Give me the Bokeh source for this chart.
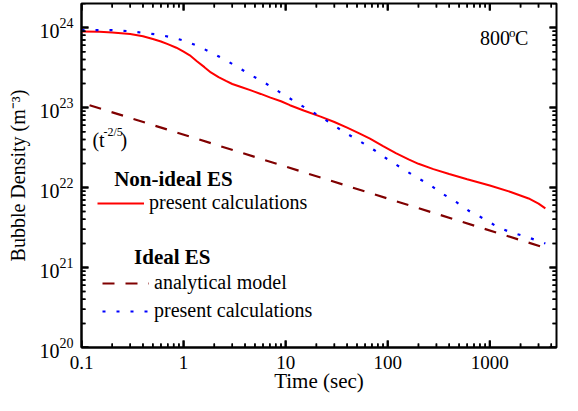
from bokeh.plotting import figure
from bokeh.models import (Label, Legend, LegendItem, CustomJSTickFormatter, Range1d)
from bokeh.embed import file_html
from bokeh.resources import INLINE

# ---- data ----
t_nonideal = [0.1, 0.15, 0.2, 0.3, 0.4, 0.5, 0.6, 0.7, 0.85, 1.0, 1.15, 1.35, 1.6, 1.85,
              2.2, 2.6, 3.0, 3.6, 4.5, 5.7, 7.1, 9, 11, 15, 22, 30, 40, 52, 67, 90,
              120, 160, 200, 280, 400, 600, 1000, 1600, 2400, 3000, 3500]
n_nonideal = [8.9e23, 8.85e23, 8.7e23, 8.3e23, 7.8e23, 7.2e23, 6.7e23, 6.2e23, 5.6e23,
              5.0e23, 4.5e23, 3.8e23, 3.2e23, 2.75e23, 2.4e23, 2.15e23, 1.97e23,
              1.82e23, 1.65e23, 1.48e23, 1.33e23, 1.2e23, 1.07e23, 9.2e22, 7.7e22,
              6.6e22, 5.6e22, 4.8e22, 4.1e22, 3.3e22, 2.7e22, 2.25e22, 1.98e22,
              1.7e22, 1.48e22, 1.27e22, 1.06e22, 8.8e21, 7.3e21, 6.3e21, 5.5e21]

t_ideal = [0.1, 0.2, 0.3, 0.4, 0.55, 0.75, 1.0, 1.38, 1.87, 2.55, 3.5, 4.75, 6.4, 8.8,
           11.8, 16, 22, 29.5, 40, 55, 75, 100, 137, 186, 256, 342, 468, 640, 875,
           1170, 1600, 2200, 3000, 3500]
n_ideal = [9.3e23, 9.3e23, 9.0e23, 8.6e23, 8.2e23, 7.6e23, 6.9e23, 5.9e23, 4.86e23,
           3.96e23, 3.13e23, 2.48e23, 2.0e23, 1.55e23, 1.23e23, 9.7e22, 7.7e22, 6.0e22,
           4.7e22, 3.7e22, 2.9e22, 2.25e22, 1.75e22, 1.37e22, 1.09e22, 8.4e21, 6.6e21,
           5.0e21, 4.07e21, 3.25e21, 2.75e21, 2.46e21, 2.14e21, 2.0e21]

t_analytic = [0.12, 3300]
n_analytic = [1.07e23, 1.8e21]

x_major = [0.1, 1, 10, 100, 1000]
y_major = [1e20, 1e21, 1e22, 1e23, 1e24]

x_min, x_max = 0.1, 4500
y_min, y_max = 1e20, 2e24

FONT = "Liberation Serif"
NAN = float("nan")

p = figure(width=562, height=395, x_axis_type="log", y_axis_type="log",
           x_range=Range1d(x_min, x_max), y_range=Range1d(y_min, y_max),
           output_backend="svg", toolbar_location=None,
           min_border_left=81, min_border_right=6, min_border_top=3,
           min_border_bottom=45)
p.grid.visible = False
p.outline_line_color = "black"
p.outline_line_width = 2
p.background_fill_color = "white"

r_red = p.line(t_nonideal, n_nonideal, line_color="#ff0000", line_width=2)
r_dash = p.line(t_analytic, n_analytic, line_color="#800000", line_width=2.2,
                line_dash="12 11")
r_blue = p.line(t_ideal, n_ideal, line_color="#0000ff", line_width=2.2,
                line_dash="3 11")

# ---- inward ticks on all four sides ----
PX_PER_DEC_X = 103.0   # approximate pixels per decade, only for tick length
PX_PER_DEC_Y = 80.0
x_minor = [m * v for v in x_major for m in range(2, 10) if m * v <= x_max]
y_minor = [m * v for v in y_major for m in range(2, 10) if m * v <= y_max]


def tick_path(vals, length, vertical):
    xs, ys = [], []
    if vertical:
        f = 10 ** (length / PX_PER_DEC_Y)
        for v in vals:
            xs += [v, v, NAN, v, v, NAN]
            ys += [y_min, y_min * f, NAN, y_max, y_max / f, NAN]
    else:
        f = 10 ** (length / PX_PER_DEC_X)
        for v in vals:
            xs += [x_min, x_min * f, NAN, x_max, x_max / f, NAN]
            ys += [v, v, NAN, v, v, NAN]
    return xs, ys


for vals, length, width, vertical in ((x_major, 7, 2, True), (x_minor, 4, 1.5, True),
                                      (y_major, 7, 2, False), (y_minor, 4, 1.5, False)):
    xs, ys = tick_path(vals, length, vertical)
    p.line(xs, ys, line_color="black", line_width=width)

# the same ticks again as screen-sized rectangles centred on the frame edges
for vals, length, width in ((x_major, 14, 2), (x_minor, 8, 1.5)):
    n = len(vals)
    for yy in (y_min, y_max):
        p.rect(x=vals, y=[yy] * n, width=width, height=length,
               width_units="screen", height_units="screen",
               fill_color="black", line_color=None)
for vals, length, width in ((y_major, 14, 2), (y_minor, 8, 1.5)):
    n = len(vals)
    for xx in (x_min, x_max):
        p.rect(x=[xx] * n, y=vals, width=length, height=width,
               width_units="screen", height_units="screen",
               fill_color="black", line_color=None)


def style_axis(ax):
    ax.axis_line_width = 2
    ax.axis_line_color = "black"
    ax.major_tick_in = 0
    ax.major_tick_out = 0
    ax.minor_tick_in = 0
    ax.minor_tick_out = 0
    ax.major_label_text_font = FONT
    ax.major_label_text_color = "black"
    ax.axis_label_text_font = FONT
    ax.axis_label_text_font_style = "normal"
    ax.axis_label_text_color = "black"


xa = p.xaxis[0]
style_axis(xa)
xa.formatter = CustomJSTickFormatter(
    code="return tick < 1 ? tick.toFixed(1) : tick.toFixed(0);")
xa.major_label_text_font_size = "19px"
xa.major_label_standoff = 8
xa.axis_label = "Time (sec)"
xa.axis_label_text_font_size = "21px"
xa.axis_label_standoff = -3

ya = p.yaxis[0]
style_axis(ya)
ya.major_label_text_font_size = "20px"
ya.major_label_standoff = 8
ya.axis_label = "Bubble Density (m\u207b\u00b3)"
ya.axis_label_text_font_size = "20px"
ya.axis_label_standoff = 8

leg_kw = dict(label_text_font=FONT, label_text_font_size="20px",
              label_text_color="black", glyph_width=47, glyph_height=20,
              label_standoff=5, padding=0, margin=0, spacing=5, label_height=22,
              border_line_color=None, background_fill_alpha=0)
leg1 = Legend(items=[LegendItem(label="present calculations", renderers=[r_red])],
              location=(16, 133), **leg_kw)
leg2 = Legend(items=[LegendItem(label="analytical model", renderers=[r_dash]),
                     LegendItem(label="present calculations", renderers=[r_blue])],
              location=(21, 25), **leg_kw)
p.add_layout(leg1, "center")
p.add_layout(leg2, "center")


def lab(text, x, y, size, xo=0, yo=0, style="normal", align="left"):
    p.add_layout(Label(x=x, y=y, text=text, x_offset=xo, y_offset=yo,
                       text_font=FONT, text_font_size=size, text_font_style=style,
                       text_color="black", text_baseline="middle", text_align=align))


lab("Non-ideal ES", 0.209, 1.29e22, "21px", style="bold")
lab("Ideal ES", 0.327, 1.36e21, "21px", style="bold")

lab("(t", 0.128, 3.9e22, "20px")
lab("-2/5", 0.128, 3.9e22, "12px", xo=11, yo=8)
lab(")", 0.128, 3.9e22, "20px", xo=28)

lab("800", 800, 7.35e23, "20px")
lab("o", 800, 7.35e23, "13px", xo=29, yo=6)
lab("C", 800, 7.35e23, "20px", xo=35)

open("out.html", "w").write(file_html(p, INLINE))
